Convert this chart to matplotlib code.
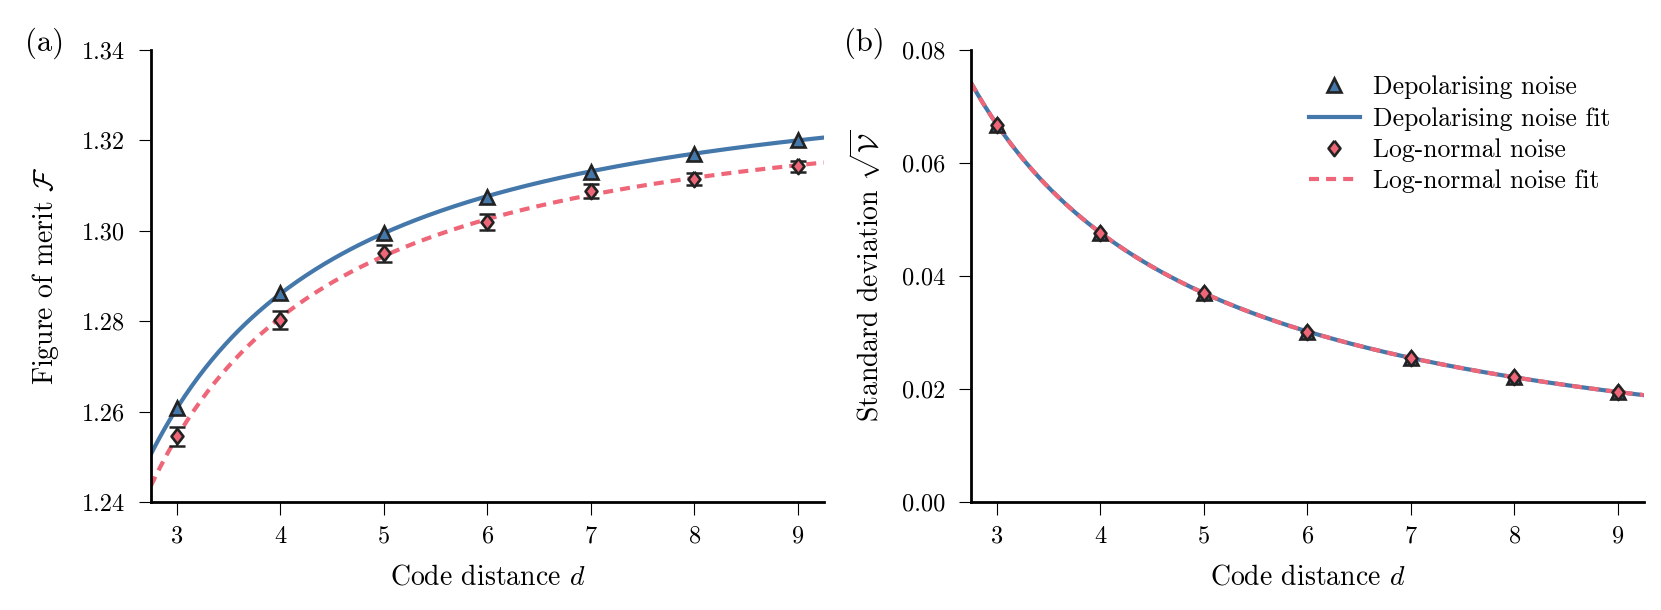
import numpy as np
import matplotlib
matplotlib.use("Agg")
import matplotlib.pyplot as plt
from matplotlib.lines import Line2D

plt.rcParams['font.family'] = 'serif'
plt.rcParams['font.serif'] = ['cmr10', 'DejaVu Serif']
plt.rcParams['mathtext.fontset'] = 'cm'
plt.rcParams['axes.formatter.use_mathtext'] = True

# data
d = np.array([3, 4, 5, 6, 7, 8, 9])
fom_depol = np.array([1.2607, 1.2862, 1.2995, 1.3075, 1.3131, 1.3171, 1.3201])
fom_logn = np.array([1.2545, 1.2803, 1.2950, 1.3020, 1.3088, 1.3115, 1.3143])
fom_logn_err = np.array([0.0020, 0.0020, 0.0018, 0.0018, 0.0015, 0.0013, 0.0012])

std_depol = np.array([0.0668, 0.0477, 0.0370, 0.0301, 0.0255, 0.0221, 0.0195])
std_logn = np.array([0.0668, 0.0477, 0.0370, 0.0301, 0.0255, 0.0221, 0.0195])

blue = '#4477AA'
red = '#EE6677'
edge = '#222222'
dash = (0, (2.4, 1.7))
diamond = [(0, 1), (0.78, 0), (0, -1), (-0.78, 0), (0, 1)]
tri_kw = dict(ls='none', marker='^', ms=9.5, mfc=blue, mec=edge, mew=1.9)
dia_kw = dict(ls='none', marker=diamond, ms=11, mfc=red, mec=edge, mew=1.9)

dd = np.linspace(2.75, 9.25, 300)


def fit_inverse(x, y):
    # quadratic in 1/d
    p = np.polyfit(1.0 / x, y, 2)
    return np.polyval(p, 1.0 / dd)


fig = plt.figure(figsize=(16.61, 6.10), dpi=100)
ax1 = fig.add_axes([0.0909, 0.177, 0.405, 0.741])
ax2 = fig.add_axes([0.5846, 0.177, 0.405, 0.741])

for ax in (ax1, ax2):
    for s in ('top', 'right'):
        ax.spines[s].set_visible(False)
    for s in ('left', 'bottom'):
        ax.spines[s].set_linewidth(2.0)
    ax.tick_params(axis='y', length=8.5, width=0.8, pad=10, labelsize=17.5)
    ax.tick_params(axis='x', length=9, width=0.8, pad=8, labelsize=17.5)
    ax.set_xlim(2.75, 9.25)
    ax.set_xticks(d)
    ax.set_xlabel('Code distance $d$', fontsize=20, labelpad=12)

# panel (a)
ax1.plot(dd, fit_inverse(d, fom_depol), color=blue, lw=3, zorder=2)
ax1.plot(dd, fit_inverse(d, fom_logn), color=red, lw=3, ls=dash, zorder=2)
ax1.plot(d, fom_depol, zorder=3, **tri_kw)
ax1.errorbar(d, fom_logn, yerr=fom_logn_err, fmt='none', ecolor=edge,
             elinewidth=1.6, capsize=5.5, capthick=1.8, zorder=3)
ax1.plot(d, fom_logn, zorder=4, **dia_kw)
ax1.set_ylim(1.24, 1.34)
ax1.set_yticks([1.24, 1.26, 1.28, 1.30, 1.32, 1.34])
ax1.set_yticklabels(['1.24', '1.26', '1.28', '1.30', '1.32', '1.34'])
ax1.set_ylabel(r'Figure of merit $\mathcal{F}$', fontsize=20)
ax1.yaxis.set_label_coords(-0.134, 0.5)

# panel (b)
ax2.plot(dd, fit_inverse(d, std_depol), color=blue, lw=3, zorder=2)
ax2.plot(dd, fit_inverse(d, std_logn), color=red, lw=3, ls=dash, zorder=2)
ax2.plot(d, std_depol, zorder=3, **tri_kw)
ax2.plot(d, std_logn, zorder=4, **dia_kw)
ax2.set_ylim(0, 0.08)
ax2.set_yticks([0, 0.02, 0.04, 0.06, 0.08])
ax2.set_yticklabels(['0.00', '0.02', '0.04', '0.06', '0.08'])
ax2.set_ylabel(r'Standard deviation $\sqrt{\mathcal{V}}$', fontsize=20)
ax2.yaxis.set_label_coords(-0.128, 0.5)

handles = [
    Line2D([], [], **tri_kw),
    Line2D([], [], color=blue, lw=3),
    Line2D([], [], **dia_kw),
    Line2D([], [], color=red, lw=3, ls=dash),
]
labels = ['Depolarising noise', 'Depolarising noise fit',
          'Log-normal noise', 'Log-normal noise fit']
ax2.legend(handles, labels, loc='upper right', frameon=False, fontsize=18.5,
           handlelength=2.0, handletextpad=0.5, labelspacing=0.3,
           bbox_to_anchor=(0.985, 0.995))

fig.text(0.015, 0.955, '(a)', fontsize=22, va='top')
fig.text(0.508, 0.955, '(b)', fontsize=22, va='top')

fig.savefig('out.png', dpi=100)
